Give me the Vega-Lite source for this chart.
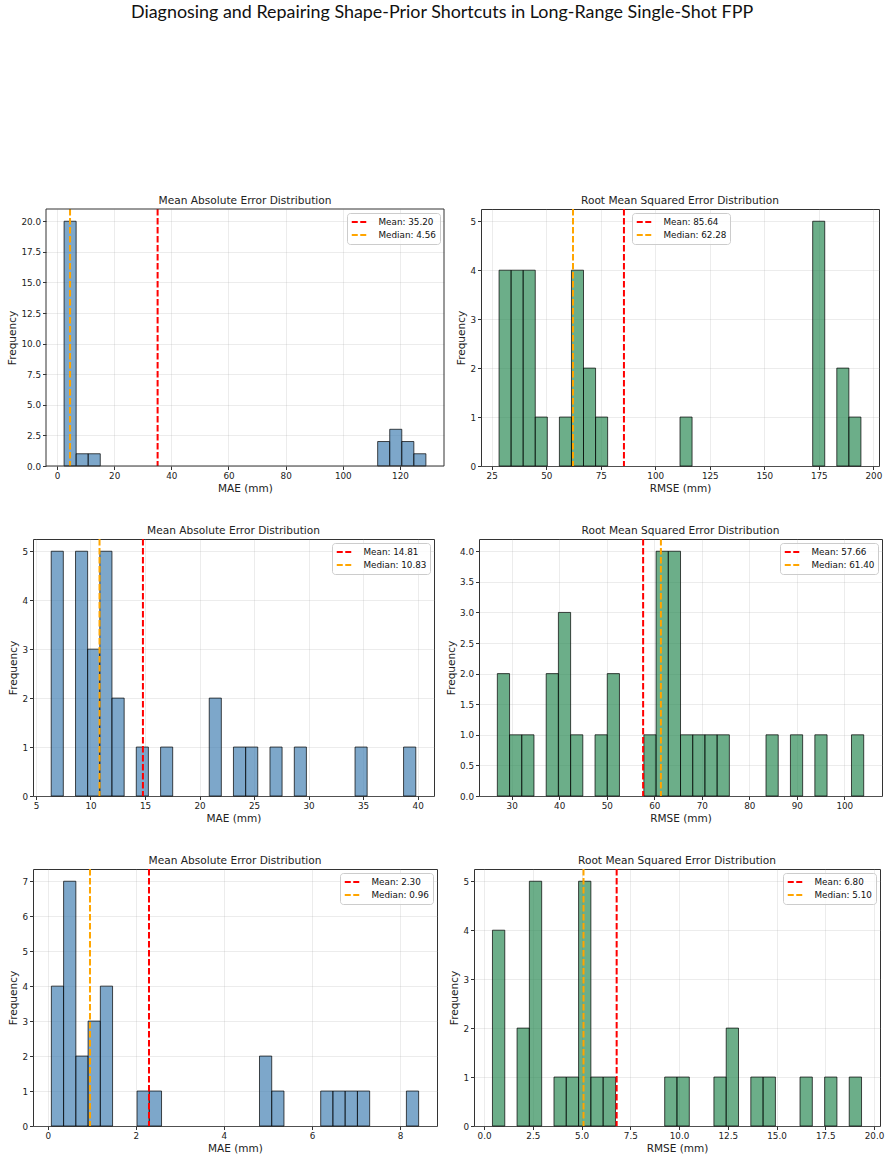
{
  "$schema": "https://vega.github.io/schema/vega-lite/v6.json",
  "padding": {"left": 7, "top": 4, "right": 0, "bottom": 0},
  "title": {
    "text": "Diagnosing and Repairing Shape-Prior Shortcuts in Long-Range Single-Shot FPP",
    "font": "Liberation Sans Narrow, Lato, sans-serif",
    "fontSize": 17.9,
    "fontWeight": "normal",
    "color": "#111",
    "anchor": "middle",
    "dx": -4,
    "offset": 174
  },
  "datasets": {
    "bins": [
      {"panel": 1, "x0": 2.48, "x1": 6.70, "count": 20},
      {"panel": 1, "x0": 6.70, "x1": 10.92, "count": 1},
      {"panel": 1, "x0": 10.92, "x1": 15.14, "count": 1},
      {"panel": 1, "x0": 112.19, "x1": 116.41, "count": 2},
      {"panel": 1, "x0": 116.41, "x1": 120.63, "count": 3},
      {"panel": 1, "x0": 120.63, "x1": 124.85, "count": 2},
      {"panel": 1, "x0": 124.85, "x1": 129.07, "count": 1},

      {"panel": 2, "x0": 28.38, "x1": 33.91, "count": 4},
      {"panel": 2, "x0": 33.91, "x1": 39.44, "count": 4},
      {"panel": 2, "x0": 39.44, "x1": 44.97, "count": 4},
      {"panel": 2, "x0": 44.97, "x1": 50.50, "count": 1},
      {"panel": 2, "x0": 56.04, "x1": 61.57, "count": 1},
      {"panel": 2, "x0": 61.57, "x1": 67.10, "count": 4},
      {"panel": 2, "x0": 67.10, "x1": 72.63, "count": 2},
      {"panel": 2, "x0": 72.63, "x1": 78.16, "count": 1},
      {"panel": 2, "x0": 111.35, "x1": 116.88, "count": 1},
      {"panel": 2, "x0": 172.19, "x1": 177.72, "count": 5},
      {"panel": 2, "x0": 183.25, "x1": 188.78, "count": 2},
      {"panel": 2, "x0": 188.78, "x1": 194.31, "count": 1},

      {"panel": 3, "x0": 6.40, "x1": 7.51, "count": 5},
      {"panel": 3, "x0": 8.63, "x1": 9.74, "count": 5},
      {"panel": 3, "x0": 9.74, "x1": 10.86, "count": 3},
      {"panel": 3, "x0": 10.86, "x1": 11.97, "count": 5},
      {"panel": 3, "x0": 11.97, "x1": 13.09, "count": 2},
      {"panel": 3, "x0": 14.20, "x1": 15.31, "count": 1},
      {"panel": 3, "x0": 16.43, "x1": 17.54, "count": 1},
      {"panel": 3, "x0": 20.89, "x1": 22.00, "count": 2},
      {"panel": 3, "x0": 23.11, "x1": 24.23, "count": 1},
      {"panel": 3, "x0": 24.23, "x1": 25.34, "count": 1},
      {"panel": 3, "x0": 26.46, "x1": 27.57, "count": 1},
      {"panel": 3, "x0": 28.69, "x1": 29.80, "count": 1},
      {"panel": 3, "x0": 34.26, "x1": 35.37, "count": 1},
      {"panel": 3, "x0": 38.71, "x1": 39.83, "count": 1},

      {"panel": 4, "x0": 26.98, "x1": 29.55, "count": 2},
      {"panel": 4, "x0": 29.55, "x1": 32.12, "count": 1},
      {"panel": 4, "x0": 32.12, "x1": 34.69, "count": 1},
      {"panel": 4, "x0": 37.26, "x1": 39.83, "count": 2},
      {"panel": 4, "x0": 39.83, "x1": 42.40, "count": 3},
      {"panel": 4, "x0": 42.40, "x1": 44.97, "count": 1},
      {"panel": 4, "x0": 47.54, "x1": 50.11, "count": 1},
      {"panel": 4, "x0": 50.11, "x1": 52.68, "count": 2},
      {"panel": 4, "x0": 57.82, "x1": 60.39, "count": 1},
      {"panel": 4, "x0": 60.39, "x1": 62.96, "count": 4},
      {"panel": 4, "x0": 62.96, "x1": 65.53, "count": 4},
      {"panel": 4, "x0": 65.53, "x1": 68.10, "count": 1},
      {"panel": 4, "x0": 68.10, "x1": 70.67, "count": 1},
      {"panel": 4, "x0": 70.67, "x1": 73.24, "count": 1},
      {"panel": 4, "x0": 73.24, "x1": 75.81, "count": 1},
      {"panel": 4, "x0": 83.52, "x1": 86.09, "count": 1},
      {"panel": 4, "x0": 88.66, "x1": 91.23, "count": 1},
      {"panel": 4, "x0": 93.80, "x1": 96.37, "count": 1},
      {"panel": 4, "x0": 101.51, "x1": 104.08, "count": 1},

      {"panel": 5, "x0": 0.083, "x1": 0.361, "count": 4},
      {"panel": 5, "x0": 0.361, "x1": 0.639, "count": 7},
      {"panel": 5, "x0": 0.639, "x1": 0.917, "count": 2},
      {"panel": 5, "x0": 0.917, "x1": 1.195, "count": 3},
      {"panel": 5, "x0": 1.195, "x1": 1.473, "count": 4},
      {"panel": 5, "x0": 2.029, "x1": 2.307, "count": 1},
      {"panel": 5, "x0": 2.307, "x1": 2.585, "count": 1},
      {"panel": 5, "x0": 4.809, "x1": 5.087, "count": 2},
      {"panel": 5, "x0": 5.087, "x1": 5.365, "count": 1},
      {"panel": 5, "x0": 6.199, "x1": 6.477, "count": 1},
      {"panel": 5, "x0": 6.477, "x1": 6.755, "count": 1},
      {"panel": 5, "x0": 6.755, "x1": 7.033, "count": 1},
      {"panel": 5, "x0": 7.033, "x1": 7.311, "count": 1},
      {"panel": 5, "x0": 8.145, "x1": 8.423, "count": 1},

      {"panel": 6, "x0": 0.430, "x1": 1.061, "count": 4},
      {"panel": 6, "x0": 1.692, "x1": 2.323, "count": 2},
      {"panel": 6, "x0": 2.323, "x1": 2.954, "count": 5},
      {"panel": 6, "x0": 3.585, "x1": 4.216, "count": 1},
      {"panel": 6, "x0": 4.216, "x1": 4.847, "count": 1},
      {"panel": 6, "x0": 4.847, "x1": 5.478, "count": 5},
      {"panel": 6, "x0": 5.478, "x1": 6.109, "count": 1},
      {"panel": 6, "x0": 6.109, "x1": 6.740, "count": 1},
      {"panel": 6, "x0": 9.264, "x1": 9.895, "count": 1},
      {"panel": 6, "x0": 9.895, "x1": 10.526, "count": 1},
      {"panel": 6, "x0": 11.788, "x1": 12.419, "count": 1},
      {"panel": 6, "x0": 12.419, "x1": 13.050, "count": 2},
      {"panel": 6, "x0": 13.681, "x1": 14.312, "count": 1},
      {"panel": 6, "x0": 14.312, "x1": 14.943, "count": 1},
      {"panel": 6, "x0": 16.205, "x1": 16.836, "count": 1},
      {"panel": 6, "x0": 17.467, "x1": 18.098, "count": 1},
      {"panel": 6, "x0": 18.729, "x1": 19.360, "count": 1}
    ],
    "stats": [
      {"panel": 1, "label": "Mean: 35.20", "value": 35.20},
      {"panel": 1, "label": "Median: 4.56", "value": 4.56},
      {"panel": 2, "label": "Mean: 85.64", "value": 85.64},
      {"panel": 2, "label": "Median: 62.28", "value": 62.28},
      {"panel": 3, "label": "Mean: 14.81", "value": 14.81},
      {"panel": 3, "label": "Median: 10.83", "value": 10.83},
      {"panel": 4, "label": "Mean: 57.66", "value": 57.66},
      {"panel": 4, "label": "Median: 61.40", "value": 61.40},
      {"panel": 5, "label": "Mean: 2.30", "value": 2.30},
      {"panel": 5, "label": "Median: 0.96", "value": 0.96},
      {"panel": 6, "label": "Mean: 6.80", "value": 6.80},
      {"panel": 6, "label": "Median: 5.10", "value": 5.10}
    ]
  },
  "spacing": 30,
  "vconcat": [
    {
      "spacing": 11,
      "resolve": {"scale": {"x": "independent", "y": "independent", "color": "independent"}, "legend": {"color": "independent"}},
      "hconcat": [
        {
          "width": 411, "height": 257,
          "view": {"stroke": null},
          "title": {"text": "Mean Absolute Error Distribution", "dx": 6.5},
          "layer": [
            {
              "data": {"name": "bins"},
              "transform": [{"filter": "datum.panel == 1"}],
              "mark": {"type": "rect", "fill": "#4682b4", "fillOpacity": 0.7, "stroke": "#000", "strokeOpacity": 0.7, "strokeWidth": 1},
              "encoding": {
                "x": {"field": "x0", "type": "quantitative", "scale": {"domain": [-3.85, 135.4], "range": [13, 411], "nice": false, "zero": false}, "axis": {"title": "MAE (mm)", "values": [0, 20, 40, 60, 80, 100, 120]}},
                "x2": {"field": "x1"},
                "y": {"field": "count", "type": "quantitative", "scale": {"domain": [0, 21], "nice": false}, "axis": {"title": "Frequency", "values": [0, 2.5, 5, 7.5, 10, 12.5, 15, 17.5, 20], "format": ".1f", "offset": -13, "labelOverlap": false}},
                "y2": {"datum": 0}
              }
            },
            {
              "data": {"name": "stats"},
              "transform": [{"filter": "datum.panel == 1"}],
              "mark": {"type": "rule", "strokeWidth": 2, "strokeDash": [6.5, 2.5]},
              "encoding": {
                "x": {"field": "value", "type": "quantitative"},
                "color": {"field": "label", "type": "nominal", "scale": {"range": ["#ff0000", "#ffa500"]}, "legend": {"orient": "top-right"}}
              }
            },
            {
              "data": {"values": [{"x_lo": -3.85, "x_hi": 135.4, "y_lo": 0, "y_hi": 21}]},
              "mark": {"type": "rect", "filled": false, "stroke": "#333", "strokeWidth": 1},
              "encoding": {
                "x": {"field": "x_lo", "type": "quantitative", "axis": {"title": "MAE (mm)", "values": [0, 20, 40, 60, 80, 100, 120]}},
                "x2": {"field": "x_hi"},
                "y": {"field": "y_lo", "type": "quantitative", "axis": {"title": "Frequency", "values": [0, 2.5, 5, 7.5, 10, 12.5, 15, 17.5, 20], "format": ".1f", "offset": -13, "labelOverlap": false}},
                "y2": {"field": "y_hi"}
              }
            }
          ]
        },
        {
          "width": 398, "height": 257,
          "title": "Root Mean Squared Error Distribution",
          "layer": [
            {
              "data": {"name": "bins"},
              "transform": [{"filter": "datum.panel == 2"}],
              "mark": {"type": "rect", "fill": "#2e8b57", "fillOpacity": 0.7, "stroke": "#000", "strokeOpacity": 0.7, "strokeWidth": 1},
              "encoding": {
                "x": {"field": "x0", "type": "quantitative", "scale": {"domain": [20.09, 202.6], "nice": false, "zero": false}, "axis": {"title": "RMSE (mm)", "values": [25, 50, 75, 100, 125, 150, 175, 200]}},
                "x2": {"field": "x1"},
                "y": {"field": "count", "type": "quantitative", "scale": {"domain": [0, 5.25], "nice": false}, "axis": {"title": "Frequency", "values": [0, 1, 2, 3, 4, 5], "format": "d"}},
                "y2": {"datum": 0}
              }
            },
            {
              "data": {"name": "stats"},
              "transform": [{"filter": "datum.panel == 2"}],
              "mark": {"type": "rule", "strokeWidth": 2, "strokeDash": [6.5, 2.5]},
              "encoding": {
                "x": {"field": "value", "type": "quantitative"},
                "color": {"field": "label", "type": "nominal", "scale": {"range": ["#ff0000", "#ffa500"]}, "legend": {"orient": "none", "legendX": 151, "legendY": 4}}
              }
            }
          ]
        }
      ]
    },
    {
      "spacing": 11,
      "resolve": {"scale": {"x": "independent", "y": "independent", "color": "independent"}, "legend": {"color": "independent"}},
      "hconcat": [
        {
          "width": 401, "height": 257,
          "title": "Mean Absolute Error Distribution",
          "layer": [
            {
              "data": {"name": "bins"},
              "transform": [{"filter": "datum.panel == 3"}],
              "mark": {"type": "rect", "fill": "#4682b4", "fillOpacity": 0.7, "stroke": "#000", "strokeOpacity": 0.7, "strokeWidth": 1},
              "encoding": {
                "x": {"field": "x0", "type": "quantitative", "scale": {"domain": [4.73, 41.5], "nice": false, "zero": false}, "axis": {"title": "MAE (mm)", "values": [5, 10, 15, 20, 25, 30, 35, 40]}},
                "x2": {"field": "x1"},
                "y": {"field": "count", "type": "quantitative", "scale": {"domain": [0, 5.25], "nice": false}, "axis": {"title": "Frequency", "values": [0, 1, 2, 3, 4, 5], "format": "d"}},
                "y2": {"datum": 0}
              }
            },
            {
              "data": {"name": "stats"},
              "transform": [{"filter": "datum.panel == 3"}],
              "mark": {"type": "rule", "strokeWidth": 2, "strokeDash": [6.5, 2.5]},
              "encoding": {
                "x": {"field": "value", "type": "quantitative"},
                "color": {"field": "label", "type": "nominal", "scale": {"range": ["#ff0000", "#ffa500"]}, "legend": {"orient": "top-right"}}
              }
            }
          ]
        },
        {
          "width": 403, "height": 257,
          "title": "Root Mean Squared Error Distribution",
          "layer": [
            {
              "data": {"name": "bins"},
              "transform": [{"filter": "datum.panel == 4"}],
              "mark": {"type": "rect", "fill": "#2e8b57", "fillOpacity": 0.7, "stroke": "#000", "strokeOpacity": 0.7, "strokeWidth": 1},
              "encoding": {
                "x": {"field": "x0", "type": "quantitative", "scale": {"domain": [23.12, 107.93], "nice": false, "zero": false}, "axis": {"title": "RMSE (mm)", "values": [30, 40, 50, 60, 70, 80, 90, 100]}},
                "x2": {"field": "x1"},
                "y": {"field": "count", "type": "quantitative", "scale": {"domain": [0, 4.2], "nice": false}, "axis": {"title": "Frequency", "values": [0, 0.5, 1, 1.5, 2, 2.5, 3, 3.5, 4], "format": ".1f"}},
                "y2": {"datum": 0}
              }
            },
            {
              "data": {"name": "stats"},
              "transform": [{"filter": "datum.panel == 4"}],
              "mark": {"type": "rule", "strokeWidth": 2, "strokeDash": [6.5, 2.5]},
              "encoding": {
                "x": {"field": "value", "type": "quantitative"},
                "color": {"field": "label", "type": "nominal", "scale": {"range": ["#ff0000", "#ffa500"]}, "legend": {"orient": "top-right"}}
              }
            }
          ]
        }
      ]
    },
    {
      "spacing": 11,
      "resolve": {"scale": {"x": "independent", "y": "independent", "color": "independent"}, "legend": {"color": "independent"}},
      "hconcat": [
        {
          "width": 404, "height": 257,
          "title": "Mean Absolute Error Distribution",
          "layer": [
            {
              "data": {"name": "bins"},
              "transform": [{"filter": "datum.panel == 5"}],
              "mark": {"type": "rect", "fill": "#4682b4", "fillOpacity": 0.7, "stroke": "#000", "strokeOpacity": 0.7, "strokeWidth": 1},
              "encoding": {
                "x": {"field": "x0", "type": "quantitative", "scale": {"domain": [-0.334, 8.84], "nice": false, "zero": false}, "axis": {"title": "MAE (mm)", "values": [0, 2, 4, 6, 8]}},
                "x2": {"field": "x1"},
                "y": {"field": "count", "type": "quantitative", "scale": {"domain": [0, 7.35], "nice": false}, "axis": {"title": "Frequency", "values": [0, 1, 2, 3, 4, 5, 6, 7], "format": "d"}},
                "y2": {"datum": 0}
              }
            },
            {
              "data": {"name": "stats"},
              "transform": [{"filter": "datum.panel == 5"}],
              "mark": {"type": "rule", "strokeWidth": 2, "strokeDash": [6.5, 2.5]},
              "encoding": {
                "x": {"field": "value", "type": "quantitative"},
                "color": {"field": "label", "type": "nominal", "scale": {"range": ["#ff0000", "#ffa500"]}, "legend": {"orient": "top-right"}}
              }
            }
          ]
        },
        {
          "width": 406, "height": 257,
          "title": "Root Mean Squared Error Distribution",
          "layer": [
            {
              "data": {"name": "bins"},
              "transform": [{"filter": "datum.panel == 6"}],
              "mark": {"type": "rect", "fill": "#2e8b57", "fillOpacity": 0.7, "stroke": "#000", "strokeOpacity": 0.7, "strokeWidth": 1},
              "encoding": {
                "x": {"field": "x0", "type": "quantitative", "scale": {"domain": [-0.517, 20.307], "nice": false, "zero": false}, "axis": {"title": "RMSE (mm)", "values": [0, 2.5, 5, 7.5, 10, 12.5, 15, 17.5, 20], "format": ".1f"}},
                "x2": {"field": "x1"},
                "y": {"field": "count", "type": "quantitative", "scale": {"domain": [0, 5.25], "nice": false}, "axis": {"title": "Frequency", "values": [0, 1, 2, 3, 4, 5], "format": "d"}},
                "y2": {"datum": 0}
              }
            },
            {
              "data": {"name": "stats"},
              "transform": [{"filter": "datum.panel == 6"}],
              "mark": {"type": "rule", "strokeWidth": 2, "strokeDash": [6.5, 2.5]},
              "encoding": {
                "x": {"field": "value", "type": "quantitative"},
                "color": {"field": "label", "type": "nominal", "scale": {"range": ["#ff0000", "#ffa500"]}, "legend": {"orient": "top-right"}}
              }
            }
          ]
        }
      ]
    }
  ],
  "resolve": {
    "scale": {"x": "independent", "y": "independent", "color": "independent"},
    "legend": {"color": "independent"}
  },
  "config": {
    "font": "DejaVu Sans",
    "view": {"stroke": "#333", "strokeWidth": 1},
    "axis": {
      "labelFont": "DejaVu Sans",
      "labelFontSize": 8.8,
      "labelColor": "#222",
      "labelPadding": 2,
      "titleFont": "DejaVu Sans",
      "titleFontSize": 10.5,
      "titleFontWeight": "normal",
      "titleColor": "#222",
      "titlePadding": 3,
      "tickColor": "#333",
      "tickSize": 3.5,
      "domain": false,
      "gridColor": "#b0b0b0",
      "gridOpacity": 0.3,
      "gridWidth": 0.8
    },
    "legend": {
      "title": null,
      "offset": 4,
      "symbolType": "M-1,0H3",
      "symbolStrokeWidth": 2,
      "symbolDash": [6, 2.5],
      "symbolSize": 72,
      "symbolFillColor": "transparent",
      "labelFont": "DejaVu Sans",
      "labelFontSize": 8.8,
      "labelColor": "#111",
      "labelOffset": 17,
      "fillColor": "rgba(255,255,255,0.8)",
      "strokeColor": "#cccccc",
      "cornerRadius": 3,
      "padding": 3.5,
      "rowPadding": 2
    },
    "title": {
      "font": "DejaVu Sans",
      "fontSize": 10.6,
      "fontWeight": "normal",
      "color": "#222",
      "offset": 1
    }
  }
}
